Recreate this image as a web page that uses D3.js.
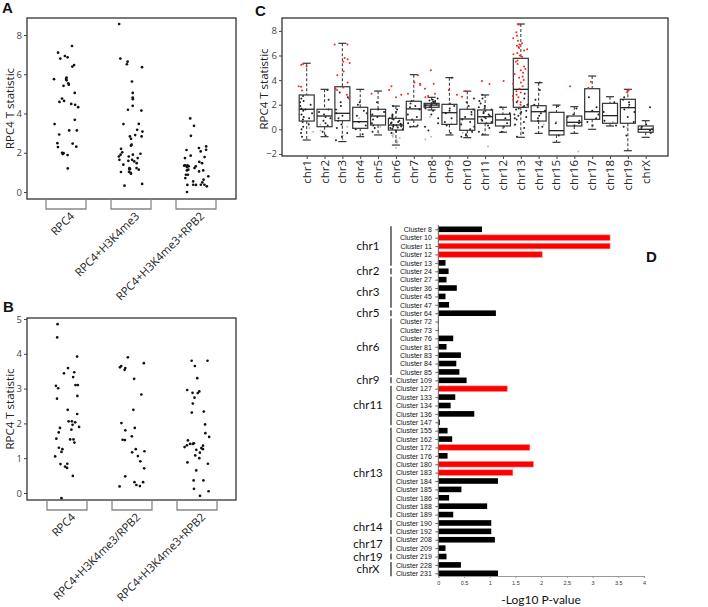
<!DOCTYPE html>
<html><head><meta charset="utf-8">
<script src="https://cdn.jsdelivr.net/npm/d3@7"></script>
<style>body{margin:0;background:#fff}svg{display:block}</style>
</head><body>
<svg id="c" width="708" height="607"></svg>
<script>
// ---------- Panel A data ----------
const aCategories = ["RPC4","RPC4+H3K4me3","RPC4+H3K4me3+RPB2"];
const aRPC4 = [7.1,7.44,6.86,6.93,6.8,6.47,6.39,5.76,5.83,5.69,5.75,5.54,5.47,5.41,5.05,4.76,4.64,4.59,4.32,4.49,4.44,3.68,3.46,3.14,3.14,2.93,2.47,2.49,2.31,2.29,2.0,1.88,1.93,1.98,1.2];
const aRPC4H3 = [8.56,6.8,6.64,6.51,6.36,5.63,5.05,4.81,4.73,4.39,4.19,4.15,3.47,3.46,3.17,2.9,3.08,2.83,2.83,2.71,2.41,2.36,2.2,1.9,1.81,1.95,1.9,2.02,1.64,1.73,1.81,1.56,1.64,1.59,1.39,1.47,1.22,1.14,1.17,1.22,1.17,1.03,1.02,0.93,0.97,0.41,0.32];
const aRPC4H3Pol = [3.75,3.37,2.86,2.15,2.24,2.32,2.07,2.14,1.78,1.73,1.85,1.47,1.53,1.27,1.36,1.31,1.31,1.22,1.36,1.34,1.1,1.05,1.1,1.14,0.88,0.88,0.8,0.71,0.63,0.54,0.49,0.37,0.36,0.36,0.37,0.37,0.29,0.0];
const aTicks = [0,2,4,6,8];

// ---------- Panel B data ----------
const bCategories = ["RPC4","RPC4+H3K4me3/RPB2","RPC4+H3K4me3+RPB2"];
const bRPC4 = [4.85,4.47,3.92,3.59,3.47,3.44,3.33,3.08,3.1,3.1,3.01,2.79,2.71,2.39,2.27,2.06,2.06,2.03,1.96,1.9,1.87,1.82,1.74,1.56,1.54,1.54,1.45,1.3,1.26,1.18,1.05,0.83,0.84,0.76,0.72,0.49,-0.15];
const bRPC4H3orPol = [3.9,3.73,3.54,3.59,3.61,3.65,3.28,2.83,2.39,2.01,1.87,1.8,1.63,1.53,1.52,1.26,1.17,1.2,1.06,0.91,0.71,0.48,0.31,0.31,0.23,0.2,0.19];
const bRPC4H3Pol = [3.8,3.8,3.65,3.3,2.96,2.92,2.88,2.87,2.74,2.57,2.34,2.31,1.97,1.72,1.61,1.43,1.41,1.51,1.41,1.36,1.37,1.32,1.29,1.26,1.24,1.16,1.08,1.0,0.88,0.84,0.65,0.36,0.36,0.12,0.05,-0.08];
const bTicks = [0,1,2,3,4,5];

// ---------- Panel C data ----------
const chromosomes = ["chr1","chr2","chr3","chr4","chr5","chr6","chr7","chr8","chr9","chr10","chr11","chr12","chr13","chr14","chr15","chr16","chr17","chr18","chr19","chrX"];
const boxQ1 = [0.67,0.21,0.7,0.08,0.35,-0.06,0.76,1.79,0.4,-0.08,0.49,0.27,1.79,0.67,-0.46,0.27,0.81,0.49,0.49,-0.24];
const boxMedian = [1.63,1.08,1.3,0.62,1.08,0.35,1.66,1.97,1.35,0.84,1.02,0.76,3.25,1.43,-0.11,0.57,1.43,1.11,1.76,0.0];
const boxQ3 = [2.79,1.63,3.46,1.79,1.63,0.89,2.28,2.11,2.03,1.63,1.57,1.22,5.77,1.92,1.38,1.08,3.3,2.11,2.44,0.27];
const whiskerLow = [-0.87,-0.6,-1.0,-0.6,-0.46,-1.28,0.21,1.57,-0.46,-0.68,-0.46,-0.24,-0.65,-0.33,-1.06,-0.33,0.0,0.27,-1.74,-0.65];
const whiskerHigh = [5.37,3.25,6.99,3.25,3.11,1.89,4.44,2.6,4.2,3.1,2.79,1.79,8.56,3.79,1.97,1.84,4.33,2.65,3.25,0.7];
const cTicks = [-2,0,2,4,6,8];
const cBlack = [
  [2.7,2.5,2.3,2.2,2.0,1.9,1.7,1.6,1.5,1.3,1.2,1.0,0.9,0.8,0.6,0.4,0.2,0.0,-0.3,-0.6],
  [3.2,2.4,1.6,1.4,1.2,1.0,0.9,0.7,0.5,0.3,-0.2,-0.5],
  [3.0,2.6,2.2,1.9,1.6,1.3,1.1,0.9,0.7,0.4,0.1,-0.3,-0.6,-0.9],
  [2.2,2.0,1.5,1.3,1.1,0.6,0.3,0.0,-0.4],
  [2.2,1.6,1.4,1.2,1.0,0.8,0.5,0.3,0.1,-0.2],
  [1.9,1.6,1.4,1.2,1.1,1.0,0.9,0.85,0.8,0.7,0.6,0.55,0.5,0.45,0.4,0.35,0.3,0.25,0.2,0.15,0.1,0.05,0.0,-0.1,-0.2,-0.3],
  [2.3,2.1,1.9,1.8,1.6,1.2,1.0,0.8,0.5,0.3,0.2],
  [2.5,2.4,2.35,2.3,2.25,2.2,2.15,2.1,2.05,2.0,1.95,1.9,1.85,1.8,1.7,1.5,1.2,0.9,0.5,0.2,-0.1],
  [4.2,2.1,1.9,1.7,1.5,1.3,0.9,0.6,0.3,-0.3],
  [2.5,2.2,1.9,1.6,1.4,1.2,1.0,0.8,0.6,0.4,0.2,0.0,-0.2,-0.4,-0.5,-0.6],
  [2.8,2.5,2.3,2.1,1.9,1.8,1.7,1.6,1.5,1.4,1.3,1.2,1.1,1.0,0.9,0.8,0.7,0.6,0.5,0.3,0.1,-0.2,-0.4],
  [1.8,1.3,0.9,0.5,0.2,-0.2],
  [2.9,2.5,2.2,2.0,1.9,1.8,1.7,1.6,1.5,1.4,1.3,1.2,1.1,1.0,0.9,0.8,0.6,0.4,0.1,-0.3,-0.6],
  [3.8,3.2,2.4,2.0,1.8,1.5,1.3,1.1,0.9,0.7,0.2],
  [1.9,0.5,-0.5],
  [1.7,1.2,1.0,0.7,0.5,0.3],
  [2.6,1.8,1.5,1.2,0.9,0.6,0.3],
  [2.2,1.4,0.7,0.3],
  [2.6,2.4,2.2,2.0,1.8,1.6,1.4,1.0,0.6,0.2,-0.5],
  [1.8,0.4,0.2,0.1,0.0,-0.1,-0.3]
];
const cRed = [
  [5.3,5.25,5.1,3.5,3.45,3.15],
  [],
  [6.9,6.9,5.8,5.7,5.5,5.4,4.7,4.4,3.8,3.4,3.3,3.2,2.8,2.5],
  [],
  [2.9],
  [3.5,3.2,2.8,2.6],
  [4.4,3.8,3.7,3.6,2.9],
  [4.8,3.7,3.3,2.9,2.7,2.6],
  [3.2,2.8],
  [3.1,2.65],
  [3.93,3.68],
  [3.93],
  [8.5,7.9,7.6,7.4,7.2,7.0,6.9,6.8,6.7,6.6,6.5,6.4,6.2,6.1,6.0,5.9,5.6,5.5,5.3,5.1,4.9,4.8,4.6,4.5,4.3,4.2,4.0,3.8,3.7,3.5,3.3,3.1,3.0,2.8,2.7,2.6,2.4,2.3,2.2,2.0],
  [],
  [],
  [3.5],
  [3.87,3.38],
  [],
  [3.2,3.1,3.0],
  []
];
const cGray = [
  [0.5,0.1,-0.2],[0.4,-0.1],[-0.5,-0.8,0.2],[0.9],[0.2,-0.3],
  [-0.4,-0.5,-0.6,-0.7,-0.8,-0.9,-1.0,-1.1,-1.5,-0.3,0.2],
  [],[-0.6,-0.8,1.0],[0.5],[-0.3,0.5],[-1.4],[],[0.3,-0.2],[0.4],[0.6],[-1.8],[],[0.6],[0.1],[]
];

// ---------- Panel D data ----------
const clusters = ["Cluster 8","Cluster 10","Cluster 11","Cluster 12","Cluster 13","Cluster 24","Cluster 27","Cluster 36","Cluster 45","Cluster 47","Cluster 64","Cluster 72","Cluster 73","Cluster 76","Cluster 81","Cluster 83","Cluster 84","Cluster 85","Cluster 109","Cluster 127","Cluster 133","Cluster 134","Cluster 136","Cluster 147","Cluster 155","Cluster 162","Cluster 172","Cluster 176","Cluster 180","Cluster 183","Cluster 184","Cluster 185","Cluster 186","Cluster 188","Cluster 189","Cluster 190","Cluster 192","Cluster 208","Cluster 209","Cluster 219","Cluster 228","Cluster 231"];
const clusterLogP = [0.85,3.34,3.34,2.02,0.14,0.2,0.16,0.36,0.14,0.21,1.12,0.01,0.01,0.29,0.16,0.44,0.35,0.41,0.55,1.34,0.33,0.24,0.7,0.03,0.18,0.27,1.78,0.18,1.85,1.45,1.16,0.45,0.21,0.95,0.29,1.03,1.03,1.1,0.14,0.16,0.44,1.16];
const significantClusters = ["Cluster 10","Cluster 11","Cluster 12","Cluster 127","Cluster 172","Cluster 180","Cluster 183"];
const groupNames = ["chr1","chr2","chr3","chr5","chr6","chr9","chr11","chr13","chr14","chr17","chr19","chrX"];
const groupSizes = [5,1,4,1,7,1,5,11,2,2,1,2];
const dTicks = [0,0.5,1,1.5,2,2.5,3,3.5,4];

// ---------- drawing ----------
const svg = d3.select("#c");
const FONT = "'Open Sans', sans-serif";
const ARIAL = "'Liberation Sans', Arial, sans-serif";
// deterministic horizontal jitter (layout only, not data)
function jitter(i, seed, w) {
  const s = Math.sin(i * 12.9898 + seed * 78.233) * 43758.5453;
  return ((s - Math.floor(s)) - 0.5) * w;
}

function panelLabel(t, x, y) {
  svg.append("text").attr("x", x).attr("y", y).attr("font-family", ARIAL)
    .attr("font-weight", "bold").attr("font-size", 15).attr("fill", "#111").text(t);
}

function stripPanel(o) {
  const g = svg.append("g");
  const y = d3.scaleLinear().domain(o.domain).range(o.yr);
  const x = d3.scalePoint().domain(o.cats).range(o.xr);
  o.series.forEach((vals, k) => {
    g.selectAll(null).data(vals).join("circle")
      .attr("cx", (d, i) => x(o.cats[k]) + jitter(i, k + o.seed, 25))
      .attr("cy", d => y(d)).attr("r", 1.35).attr("fill", "#111");
  });
  g.append("rect").attr("x", o.x0).attr("y", o.y0).attr("width", o.x1 - o.x0).attr("height", o.y1 - o.y0)
    .attr("fill", "none").attr("stroke", "#222").attr("stroke-width", 1.2);
  const ax = g.append("g").attr("transform", `translate(${o.x0},0)`)
    .call(d3.axisLeft(y).tickValues(o.ticks).tickSize(3).tickPadding(2).tickFormat(d => String(d)));
  ax.select(".domain").remove();
  ax.selectAll("text").attr("font-family", FONT).attr("font-size", 9.5).attr("fill", "#444");
  ax.selectAll("line").attr("stroke", "#444");
  o.cats.forEach(c => {
    const cx = x(c);
    g.append("path").attr("d", `M${cx - 20},${o.y1}V${o.y1 + 10}H${cx + 20}V${o.y1}`)
      .attr("fill", "none").attr("stroke", "#888").attr("stroke-width", 1.3);
    g.append("text").attr("transform", `translate(${cx + 9},${o.y1 + 18}) rotate(-45)`)
      .attr("text-anchor", "end").attr("font-family", FONT).attr("font-size", 11.3)
      .attr("fill", "#222").text(c);
  });
  g.append("text").attr("transform", `translate(14,${(o.y0 + o.y1) / 2}) rotate(-90)`)
    .attr("text-anchor", "middle").attr("font-family", FONT).attr("font-size", 11.5)
    .attr("fill", "#222").text("RPC4 T statistic");
}

// Panel A
stripPanel({cats: aCategories, series: [aRPC4, aRPC4H3, aRPC4H3Pol], domain: [0, 8], yr: [192, 35],
  xr: [66, 196], x0: 27, x1: 236, y0: 18, y1: 199, ticks: aTicks, seed: 1});
// Panel B
stripPanel({cats: bCategories, series: [bRPC4, bRPC4H3orPol, bRPC4H3Pol], domain: [0, 5], yr: [493, 319],
  xr: [67, 197], x0: 27, x1: 236, y0: 318, y1: 500, ticks: bTicks, seed: 7});

// Panel C
(function () {
  const g = svg.append("g");
  const x0 = 282, x1 = 668, y0 = 18, y1 = 156;
  const y = d3.scaleLinear().domain([-2, 8]).range([153.9, 30.9]);
  const x = d3.scalePoint().domain(chromosomes).range([306.7, 645.7]);
  chromosomes.forEach((c, k) => {
    const cx = x(c);
    g.selectAll(null).data(cGray[k]).join("circle")
      .attr("cx", (d, i) => cx + jitter(i, k + 40, 13)).attr("cy", d => y(d))
      .attr("r", 1.0).attr("fill", "#bbb");
    g.selectAll(null).data(cBlack[k]).join("circle")
      .attr("cx", (d, i) => cx + jitter(i, k + 20, 14)).attr("cy", d => y(d))
      .attr("r", 1.0).attr("fill", "#222");
    const dash = "3,2";
    g.append("line").attr("x1", cx).attr("x2", cx).attr("y1", y(whiskerHigh[k])).attr("y2", y(boxQ3[k]))
      .attr("stroke", "#444").attr("stroke-width", 1.1).attr("stroke-dasharray", dash);
    g.append("line").attr("x1", cx).attr("x2", cx).attr("y1", y(boxQ1[k])).attr("y2", y(whiskerLow[k]))
      .attr("stroke", "#444").attr("stroke-width", 1.1).attr("stroke-dasharray", dash);
    [whiskerHigh[k], whiskerLow[k]].forEach(v => {
      g.append("line").attr("x1", cx - 4).attr("x2", cx + 4).attr("y1", y(v)).attr("y2", y(v))
        .attr("stroke", "#333").attr("stroke-width", 1.2);
    });
    g.append("rect").attr("x", cx - 7.5).attr("width", 15).attr("y", y(boxQ3[k]))
      .attr("height", y(boxQ1[k]) - y(boxQ3[k])).attr("fill", "none")
      .attr("stroke", "#333").attr("stroke-width", 1.2);
    g.append("line").attr("x1", cx - 7.5).attr("x2", cx + 7.5).attr("y1", y(boxMedian[k])).attr("y2", y(boxMedian[k]))
      .attr("stroke", "#222").attr("stroke-width", 1.3);
    g.selectAll(null).data(cRed[k]).join("circle")
      .attr("cx", (d, i) => cx + jitter(i, k + 60, 16)).attr("cy", d => y(d))
      .attr("r", 1.0).attr("fill", "#ff2020");
  });
  g.append("rect").attr("x", x0).attr("y", y0).attr("width", x1 - x0).attr("height", y1 - y0)
    .attr("fill", "none").attr("stroke", "#222").attr("stroke-width", 1.2);
  const ay = g.append("g").attr("transform", `translate(${x0},0)`)
    .call(d3.axisLeft(y).tickValues(cTicks).tickSize(3).tickPadding(2).tickFormat(d => d < 0 ? "\u2212" + Math.abs(d) : String(d)));
  ay.select(".domain").remove();
  ay.selectAll("text").attr("font-family", FONT).attr("font-size", 9.5).attr("fill", "#444");
  ay.selectAll("line").attr("stroke", "#444");
  const ax = g.append("g").attr("transform", `translate(0,${y1})`)
    .call(d3.axisBottom(x).tickSize(3).tickFormat(""));
  ax.select(".domain").remove();
  ax.selectAll("line").attr("stroke", "#444");
  chromosomes.forEach(c => {
    g.append("text").attr("transform", `translate(${x(c) + 4},160) rotate(-90)`)
      .attr("text-anchor", "end").attr("font-family", FONT).attr("font-size", 11.5)
      .attr("fill", "#222").text(c);
  });
  g.append("text").attr("transform", `translate(268,89) rotate(-90)`)
    .attr("text-anchor", "middle").attr("font-family", FONT).attr("font-size", 11.5)
    .attr("fill", "#222").text("RPC4 T statistic");
})();

// Panel D
(function () {
  const g = svg.append("g");
  const x = d3.scaleLinear().domain([0, 4]).range([438.3, 644]);
  const y = d3.scalePoint().domain(clusters).range([229.3, 573.3]);
  g.selectAll(null).data(clusters).join("rect")
    .attr("x", x(0)).attr("y", d => y(d) - 2.8)
    .attr("width", (d, i) => x(clusterLogP[i]) - x(0)).attr("height", 5.6)
    .attr("fill", d => significantClusters.includes(d) ? "#ff0000" : "#000")
    .attr("stroke", d => significantClusters.includes(d) ? "#ff8080" : "none")
    .attr("stroke-width", 0.6);
  const ay = g.append("g").attr("transform", `translate(${x(0)},0)`)
    .call(d3.axisLeft(y).tickSize(3).tickPadding(3.5));
  ay.select(".domain").attr("stroke", "#666").attr("d", "M0,225V576");
  ay.selectAll("line").attr("stroke", "#666");
  ay.selectAll("text").attr("font-family", ARIAL).attr("font-size", 7).attr("fill", "#111");
  const ax = g.append("g").attr("transform", "translate(0,576)")
    .call(d3.axisBottom(x).tickValues(dTicks).tickSize(2).tickPadding(3).tickFormat(d => String(d)));
  ax.select(".domain").attr("stroke", "#999").attr("stroke-width", 1.2);
  ax.selectAll("line").attr("stroke", "#999");
  ax.selectAll("text").attr("font-family", ARIAL).attr("font-size", 5.5).attr("fill", "#333");
  g.append("text").attr("x", 541).attr("y", 604).attr("text-anchor", "middle")
    .attr("font-family", "Lato, sans-serif").attr("font-size", 12).attr("fill", "#111").text("-Log10 P-value");
  let start = 0;
  groupNames.forEach((name, gi) => {
    const first = clusters[start], last = clusters[start + groupSizes[gi] - 1];
    const ya = y(first) - 3, yb = y(last) + 3;
    g.append("line").attr("x1", 391).attr("x2", 391).attr("y1", ya).attr("y2", yb)
      .attr("stroke", "#222").attr("stroke-width", 1.2);
    g.append("text").attr("x", 368).attr("y", (ya + yb) / 2 + 4).attr("text-anchor", "middle")
      .attr("font-family", "Lato, sans-serif").attr("font-size", 11.5).attr("fill", "#111").text(name);
    start += groupSizes[gi];
  });
})();

panelLabel("A", 2, 13);
panelLabel("B", 3, 312);
panelLabel("C", 255, 16);
panelLabel("D", 646, 262);
</script>
</body></html>
